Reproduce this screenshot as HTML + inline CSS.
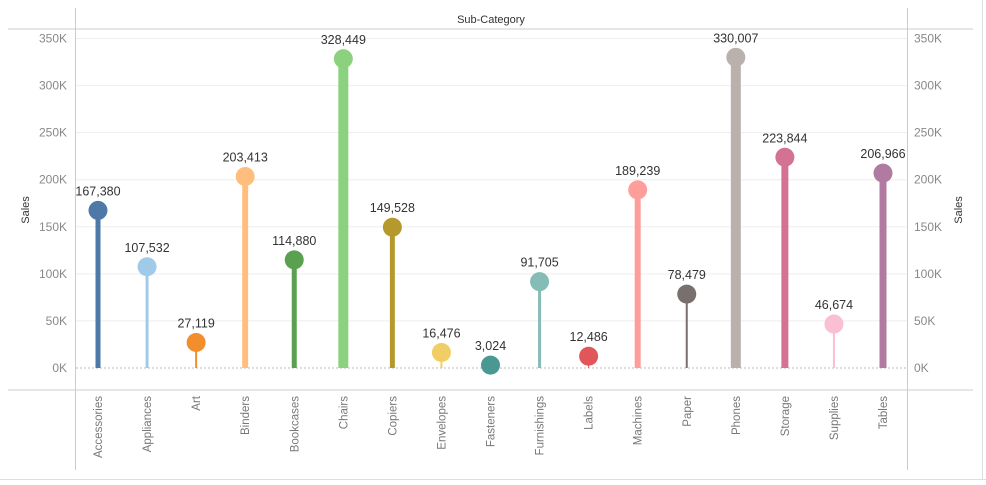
<!DOCTYPE html>
<html><head><meta charset="utf-8"><style>
body{margin:0;background:#fff;width:986px;height:480px;overflow:hidden;font-family:"Liberation Sans",sans-serif}
</style></head><body>
<svg id="chart" width="986" height="480" xmlns="http://www.w3.org/2000/svg" font-family="Liberation Sans, sans-serif">
<line x1="8" y1="29" x2="973" y2="29" stroke="#ccc"/>
<line x1="8" y1="390" x2="973" y2="390" stroke="#ccc"/>
<line x1="75.5" y1="8" x2="75.5" y2="470" stroke="#ccc"/>
<line x1="907.5" y1="8" x2="907.5" y2="470" stroke="#ccc"/>
<line x1="982.5" y1="0" x2="982.5" y2="480" stroke="#ddd"/>
<line x1="0" y1="479.5" x2="986" y2="479.5" stroke="#ddd"/>
<text x="491" y="23" font-size="11" text-anchor="middle" fill="#333">Sub-Category</text>
<text transform="translate(29,210) rotate(-90)" font-size="11" text-anchor="middle" fill="#333">Sales</text>
<text transform="translate(962,210) rotate(-90)" font-size="11" text-anchor="middle" fill="#333">Sales</text>
<g id="grid"></g><g id="marks"></g>
</svg>
<script>
const categories=["Accessories","Appliances","Art","Binders","Bookcases","Chairs","Copiers","Envelopes","Fasteners","Furnishings","Labels","Machines","Paper","Phones","Storage","Supplies","Tables"];
const sales=[167380,107532,27119,203413,114880,328449,149528,16476,3024,91705,12486,189239,78479,330007,223844,46674,206966];
const stemWidths=[5,3,2,6,5,10,5,2,1,3,1,6,2,10,7,2,7];
const colors=["#4e79a7","#a0cbe8","#f28e2b","#ffbe7d","#59a14f","#8cd17d","#b6992d","#f1ce63","#499894","#86bcb6","#e15759","#ff9d9a","#79706e","#bab0ac","#d37295","#fabfd2","#b07aa1"];
const ticks=[0,50000,100000,150000,200000,250000,300000,350000];
const tickLabels=["0K","50K","100K","150K","200K","250K","300K","350K"];
const NS="http://www.w3.org/2000/svg";
const y=v=>368-v*(329.5/350000);
const x=i=>98+i*(785/16);
function mk(t,a,p){const e=document.createElementNS(NS,t);for(const k in a)e.setAttribute(k,a[k]);p.appendChild(e);return e;}
const grid=document.getElementById('grid'),marks=document.getElementById('marks');
ticks.forEach((t,i)=>{
  const g=mk('line',{x1:76,x2:907,y1:y(t),y2:y(t),stroke:t===0?'#bbb':'#eee','stroke-dasharray':t===0?'2,2':''},grid);
  
  
  const l=mk('text',{x:67,y:y(t)+4,'font-size':12,'text-anchor':'end',fill:'#888'},grid);
  l.textContent=tickLabels[i];
  
  
  const r=mk('text',{x:914,y:y(t)+4,'font-size':12,fill:'#888'},grid);
  r.textContent=tickLabels[i];
  
  
});
categories.forEach((c,i)=>{
  const cx=x(i),cy=y(sales[i]);
  const s=mk('rect',{x:cx-stemWidths[i]/2,y:cy,width:stemWidths[i],height:368-cy,fill:colors[i]},marks);
  
  
  const d=mk('circle',{cx:cx,cy:cy,r:9.5,fill:colors[i]},marks);
  
  
  const v=mk('text',{x:cx,y:cy-15,'font-size':12.5,'text-anchor':'middle',fill:'#333'},marks);
  v.textContent=sales[i].toLocaleString('en-US');
  
  
  const t=mk('text',{transform:`translate(${cx+4},396) rotate(-90)`,'font-size':11.5,'text-anchor':'end',fill:'#777'},marks);
  t.textContent=c;
  
  
});
</script>
</body></html>
